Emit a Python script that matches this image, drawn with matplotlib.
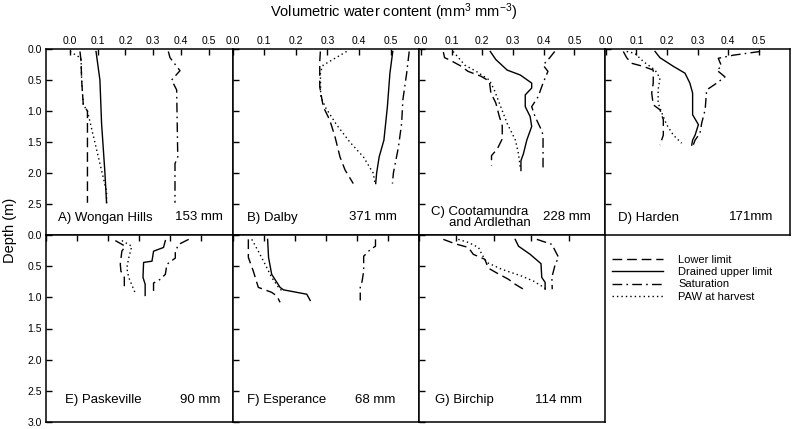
import matplotlib
matplotlib.use("Agg")
import matplotlib.pyplot as plt
from matplotlib.lines import Line2D

plt.rcParams['font.family'] = ['Liberation Sans', 'DejaVu Sans']
plt.rcParams['mathtext.default'] = 'regular'

# ---------------- data (volumetric water content, depth in m) ----------------
# A) Wongan Hills
A_ll = [0.036, 0.040, 0.042, 0.048, 0.063, 0.063]
A_ll_d = [0.04, 0.2, 0.5, 0.9, 1.0, 2.48]
A_dul = [0.094, 0.108, 0.114, 0.126, 0.132]
A_dul_d = [0.04, 0.5, 1.2, 1.99, 2.48]
A_sat = [0.355, 0.361, 0.397, 0.367, 0.385, 0.389, 0.379, 0.379]
A_sat_d = [0.04, 0.14, 0.35, 0.5, 0.66, 1.74, 1.85, 2.48]
A_paw = [0.0, 0.040, 0.042, 0.048, 0.063, 0.132, 0.132]
A_paw_d = [0.04, 0.15, 0.5, 0.9, 1.0, 2.3, 2.48]

# B) Dalby
B_ll = [0.278, 0.276, 0.276, 0.287, 0.308, 0.324, 0.340, 0.356, 0.382]
B_ll_d = [0.04, 0.2, 0.61, 0.93, 1.15, 1.41, 1.74, 1.95, 2.17]
B_dul = [0.507, 0.498, 0.490, 0.479, 0.464, 0.456, 0.453]
B_dul_d = [0.04, 0.39, 0.93, 1.47, 1.74, 2.0, 2.17]
B_sat = [0.559, 0.551, 0.539, 0.535, 0.525, 0.509, 0.506]
B_sat_d = [0.04, 0.39, 0.82, 1.2, 1.58, 2.0, 2.17]
B_paw = [0.361, 0.287, 0.278, 0.279, 0.295, 0.329, 0.371, 0.414, 0.445, 0.451]
B_paw_d = [0.04, 0.26, 0.37, 0.77, 0.95, 1.22, 1.5, 1.74, 2.0, 2.17]

# C) Cootamundra and Ardlethan
C_ll = [0.073, 0.077, 0.095, 0.132, 0.153, 0.196, 0.223, 0.228, 0.244, 0.255,
        0.265, 0.265, 0.249, 0.230, 0.230]
C_ll_d = [0.05, 0.14, 0.18, 0.28, 0.36, 0.44, 0.52, 0.71, 0.87, 1.08,
          1.24, 1.45, 1.61, 1.72, 1.88]
C_dul = [0.226, 0.244, 0.281, 0.324, 0.361, 0.361, 0.340, 0.340, 0.356, 0.361,
         0.345, 0.334, 0.326, 0.326]
C_dul_d = [0.04, 0.17, 0.34, 0.42, 0.55, 0.63, 0.74, 0.93, 1.09, 1.25,
           1.47, 1.69, 1.8, 1.96]
C_sat = [0.436, 0.420, 0.398, 0.414, 0.398, 0.382, 0.361, 0.372, 0.393, 0.398, 0.398]
C_sat_d = [0.04, 0.14, 0.26, 0.36, 0.55, 0.77, 0.93, 1.09, 1.31, 1.39, 1.91]
C_paw = [0.105, 0.143, 0.180, 0.223, 0.239, 0.260, 0.281, 0.308, 0.318, 0.324]
C_paw_d = [0.04, 0.26, 0.36, 0.5, 0.66, 0.93, 1.2, 1.47, 1.69, 1.93]

# D) Harden
D_ll = [0.057, 0.068, 0.084, 0.122, 0.155, 0.155, 0.150, 0.155, 0.177, 0.188, 0.188, 0.177]
D_ll_d = [0.04, 0.14, 0.23, 0.28, 0.34, 0.55, 0.71, 0.9, 0.98, 1.14, 1.39, 1.55]
D_dul = [0.161, 0.177, 0.221, 0.259, 0.275, 0.284, 0.284, 0.303, 0.292, 0.284, 0.281]
D_dul_d = [0.04, 0.14, 0.28, 0.39, 0.55, 0.71, 1.06, 1.22, 1.39, 1.47, 1.55]
D_sat = [0.505, 0.417, 0.368, 0.379, 0.363, 0.390, 0.363, 0.330, 0.325, 0.314,
         0.308, 0.292, 0.286]
D_sat_d = [0.04, 0.1, 0.15, 0.28, 0.34, 0.45, 0.55, 0.66, 0.98, 1.19, 1.36, 1.47, 1.55]
D_paw = [0.068, 0.095, 0.122, 0.161, 0.177, 0.171, 0.171, 0.183, 0.199, 0.221, 0.248]
D_paw_d = [0.04, 0.07, 0.2, 0.34, 0.47, 0.66, 0.87, 1.03, 1.22, 1.39, 1.52]

# E) Paskeville
E_ll = [0.223, 0.255, 0.244, 0.239, 0.241, 0.252, 0.252]
E_ll_d = [0.09, 0.18, 0.26, 0.47, 0.58, 0.68, 0.9]
E_dul = [0.384, 0.378, 0.346, 0.341, 0.314, 0.312, 0.319, 0.319]
E_dul_d = [0.09, 0.2, 0.26, 0.42, 0.44, 0.68, 0.79, 0.97]
E_sat = [0.459, 0.427, 0.416, 0.416, 0.389, 0.384, 0.368, 0.346, 0.346]
E_sat_d = [0.07, 0.15, 0.26, 0.37, 0.47, 0.63, 0.71, 0.77, 0.93]
E_paw = [0.244, 0.276, 0.266, 0.260, 0.266, 0.287]
E_paw_d = [0.09, 0.18, 0.37, 0.53, 0.68, 0.93]

# F) Esperance
F_ll = [0.051, 0.051, 0.067, 0.083, 0.126, 0.143, 0.153]
F_ll_d = [0.07, 0.36, 0.58, 0.84, 0.92, 0.98, 1.08]
F_dul = [0.113, 0.116, 0.126, 0.153, 0.164, 0.239, 0.250]
F_dul_d = [0.07, 0.36, 0.63, 0.84, 0.88, 0.95, 1.05]
F_sat = [0.460, 0.460, 0.444, 0.422, 0.422, 0.417, 0.411, 0.411]
F_sat_d = [0.07, 0.18, 0.23, 0.34, 0.58, 0.74, 0.84, 1.05]
F_paw = [0.062, 0.083, 0.105, 0.126, 0.148, 0.164]
F_paw_d = [0.07, 0.26, 0.47, 0.68, 0.84, 0.92]

# G) Birchip
G_ll = [0.065, 0.096, 0.132, 0.145, 0.176, 0.185, 0.208, 0.239, 0.257, 0.279]
G_ll_d = [0.07, 0.14, 0.2, 0.31, 0.39, 0.53, 0.61, 0.71, 0.79, 0.87]
G_dul = [0.257, 0.266, 0.297, 0.326, 0.328, 0.337, 0.337]
G_dul_d = [0.07, 0.18, 0.31, 0.46, 0.68, 0.76, 0.87]
G_sat = [0.315, 0.355, 0.373, 0.364, 0.355, 0.356]
G_sat_d = [0.07, 0.15, 0.36, 0.47, 0.68, 0.87]
G_paw = [0.105, 0.132, 0.159, 0.168, 0.181, 0.221, 0.275, 0.306, 0.328, 0.341]
G_paw_d = [0.07, 0.12, 0.2, 0.31, 0.44, 0.55, 0.66, 0.74, 0.82, 0.87]

site_names = ["A) Wongan Hills", "B) Dalby", "C) Cootamundra\n     and Ardlethan",
              "D) Harden", "E) Paskeville", "F) Esperance", "G) Birchip"]
paw_labels = ["153 mm", "371 mm", "228 mm", "171mm", "90 mm", "68 mm", "114 mm"]
legend_labels = ["Lower limit", "Drained upper limit", "Saturation", "PAW at harvest"]
x_ticks = [0.0, 0.1, 0.2, 0.3, 0.4, 0.5]
x_ticks_G = [0.0, 0.1, 0.2, 0.3, 0.4]
y_ticks_top = [0.0, 0.5, 1.0, 1.5, 2.0, 2.5]
y_ticks_bottom = [0.0, 0.5, 1.0, 1.5, 2.0, 2.5, 3.0]

# ---------------- layout ----------------
W, H = 792, 429
fig = plt.figure(figsize=(W / 100, H / 100), dpi=100)

def add_ax(x0, y0, x1, y1):
    return fig.add_axes([x0 / W, 1 - y1 / H, (x1 - x0) / W, (y1 - y0) / H])

cols = [46, 232.5, 419, 605, 790]
rows = [(49, 235), (235, 422)]
xlims = [(-0.0866, 0.5866), (0.0, 0.590), (-0.0064, 0.600), (-0.003, 0.603),
         (0.0, 0.600), (0.0, 0.600), (0.0, 0.497)]

LL_STYLE = dict(color='black', lw=1.0, linestyle=(0, (7, 3.5)))
DUL_STYLE = dict(color='black', lw=1.0, linestyle='-')
SAT_STYLE = dict(color='black', lw=1.0, linestyle=(0, (7, 3, 1.2, 3)))
PAW_STYLE = dict(color='black', lw=1.0, linestyle=(0, (1, 2.2)))

panels = [
    (A_ll, A_ll_d, A_dul, A_dul_d, A_sat, A_sat_d, A_paw, A_paw_d),
    (B_ll, B_ll_d, B_dul, B_dul_d, B_sat, B_sat_d, B_paw, B_paw_d),
    (C_ll, C_ll_d, C_dul, C_dul_d, C_sat, C_sat_d, C_paw, C_paw_d),
    (D_ll, D_ll_d, D_dul, D_dul_d, D_sat, D_sat_d, D_paw, D_paw_d),
    (E_ll, E_ll_d, E_dul, E_dul_d, E_sat, E_sat_d, E_paw, E_paw_d),
    (F_ll, F_ll_d, F_dul, F_dul_d, F_sat, F_sat_d, F_paw, F_paw_d),
    (G_ll, G_ll_d, G_dul, G_dul_d, G_sat, G_sat_d, G_paw, G_paw_d),
]

name_x = [58, 246.5, 431, 618, 65, 247, 435]
mm_x = [223, 397, 591, 773, 220, 395, 582]
text_y = [217.5, 217.5, 217.5, 217.5, 400, 400, 400]

for i, data in enumerate(panels):
    r, c = divmod(i, 4)
    y0, y1 = rows[r]
    ax = add_ax(cols[c], y0, cols[c + 1], y1)
    ll, lld, dul, duld, sat, satd, paw, pawd = data
    ax.plot(ll, lld, **LL_STYLE)
    ax.plot(dul, duld, **DUL_STYLE)
    ax.plot(sat, satd, **SAT_STYLE)
    ax.plot(paw, pawd, **PAW_STYLE)
    ax.set_xlim(*xlims[i])
    ax.set_ylim(3.0, 0.0)
    ax.set_xticks(x_ticks_G if i == 6 else x_ticks)
    ax.set_yticks(y_ticks_top if r == 0 else y_ticks_bottom)
    ax.xaxis.set_ticks_position('top')
    ax.tick_params(axis='both', direction='in', length=4, width=1.0, labelsize=7.5,
                   colors='black')
    ax.tick_params(axis='x', labeltop=(r == 0), labelbottom=False, bottom=False,
                   top=True, pad=2)
    ax.tick_params(axis='y', labelleft=(c == 0), left=True, right=False, pad=3)
    ax.xaxis.set_major_formatter(matplotlib.ticker.FormatStrFormatter('%.1f'))
    ax.yaxis.set_major_formatter(matplotlib.ticker.FormatStrFormatter('%.1f'))
    for s in ax.spines.values():
        s.set_linewidth(1.1)
    fig.text(name_x[i] / W, 1 - text_y[i] / H, site_names[i], fontsize=9.5,
             ha='left', va='center', linespacing=1.0)
    fig.text(mm_x[i] / W, 1 - text_y[i] / H, paw_labels[i], fontsize=9.5,
             ha='right', va='center')

fig.text(394 / W, 1 - 12 / H, r'Volumetric water content (mm$^{3}$ mm$^{-3}$)',
         fontsize=10.5, ha='center', va='center')
fig.text(10 / W, 1 - 230 / H, 'Depth (m)', fontsize=10.5, rotation=90,
         ha='center', va='center')

handles = [Line2D([], [], **LL_STYLE), Line2D([], [], **DUL_STYLE),
           Line2D([], [], **SAT_STYLE), Line2D([], [], **PAW_STYLE)]
fig.legend(handles, legend_labels, loc='upper left',
           bbox_to_anchor=(612 / W, 1 - 255 / H), frameon=False, fontsize=8,
           handlelength=4.6, handletextpad=1.35, labelspacing=0.2, borderaxespad=0,
           borderpad=0)

fig.savefig('out.png', dpi=100)
